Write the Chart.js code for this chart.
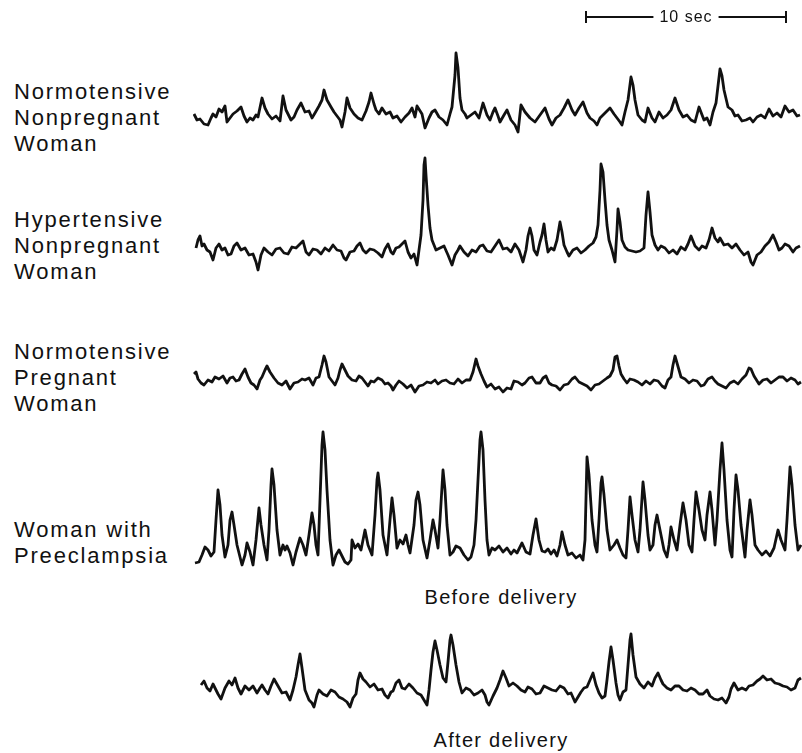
<!DOCTYPE html>
<html>
<head>
<meta charset="utf-8">
<script src="https://cdn.jsdelivr.net/npm/chart.js@4.4.1/dist/chart.umd.min.js"></script>
<style>
  html, body { margin: 0; padding: 0; background: #fff; }
  body { width: 802px; height: 753px; position: relative; overflow: hidden; }
  .trace { position: absolute; left: 193px; width: 609px; }
  .label { position: absolute; left: 14px; font: 22px "Liberation Sans", Arial, sans-serif;
           letter-spacing: 1.8px; line-height: 26px; color: #111; }
  .caption { position: absolute; left: 0; width: 1002px; text-align: center;
             font: 20px "Liberation Sans", Arial, sans-serif; letter-spacing: 1.3px;
             line-height: 20px; color: #111; }
</style>
</head>
<body>

<div class="label" style="top:79px">Normotensive<br>Nonpregnant<br>Woman</div>
<div class="label" style="top:207px">Hypertensive<br>Nonpregnant<br>Woman</div>
<div class="label" style="top:339px">Normotensive<br>Pregnant<br>Woman</div>
<div class="label" style="top:517px">Woman with<br>Preeclampsia</div>
<div class="caption" style="top:587px">Before delivery</div>
<div class="caption" style="top:730px">After delivery</div>

<div class="trace" style="top:0px"><canvas id="trace1" width="609" height="145"></canvas></div>
<div class="trace" style="top:145px"><canvas id="trace2" width="609" height="140"></canvas></div>
<div class="trace" style="top:335px"><canvas id="trace3" width="609" height="70"></canvas></div>
<div class="trace" style="top:420px"><canvas id="trace4" width="609" height="160"></canvas></div>
<div class="trace" style="top:620px"><canvas id="trace5" width="609" height="95"></canvas></div>

<script>
// recording: sample index at 20 samples per second, 609 samples shown
const sampleRate = 20;
const sampleCount = 609;

// scale bar (seconds)
const scaleBarStart = 19.65;
const scaleBarLength = 10;
const scaleBarLevel = 128;
const scaleBarText = '10 sec';

// Normotensive nonpregnant woman
const normNonpregSample = [1,4,7,11,15,18,20,23,26,29,32,34,37,40,44,48,51,54,57,60,63,65,69,72,75,79,83,87,90,93,95,98,101,104,108,112,116,119,122,126,129,131,134,138,141,144,147,149,152,154,157,161,165,169,173,176,178,181,183,186,189,193,197,200,204,208,212,216,219,222,224,229,232,236,239,242,246,250,254,257,259,262,263,265,267,269,272,274,278,282,286,290,294,297,300,302,305,307,311,314,318,322,325,328,332,337,342,347,352,356,359,363,367,371,375,379,382,386,390,394,397,401,404,407,410,414,417,421,424,427,429,432,435,438,440,442,445,449,452,455,459,462,466,470,474,478,482,486,490,494,498,502,506,511,514,517,520,523,525,527,529,531,535,539,542,545,549,553,557,560,564,568,572,576,580,584,588,592,596,600,604,607];
const normNonpregAmp = [31,25,26,21,20,27,31,28,36,33,39,23,27,31,34,38,29,23,27,25,30,28,47,37,31,26,29,24,49,35,31,25,28,35,42,33,34,27,32,39,45,55,45,38,33,29,25,18,33,47,37,31,27,25,34,43,52,41,35,31,37,31,33,27,29,23,28,32,37,28,39,31,17,27,33,35,28,25,20,31,38,70,92,77,47,35,31,27,30,33,27,42,30,25,33,37,29,23,30,35,25,20,13,40,33,27,23,30,37,26,20,27,30,37,45,35,30,37,43,32,27,24,20,27,30,34,37,31,27,23,20,33,45,68,60,45,30,25,23,37,27,23,33,27,30,35,47,35,28,30,25,23,38,25,27,20,33,42,59,76,69,55,38,35,29,30,24,25,27,23,28,30,27,36,29,32,28,39,33,35,29,30];

// Hypertensive nonpregnant woman
const hyperNonpregSample = [3,5,7,9,11,14,17,20,23,26,29,32,35,38,41,44,48,52,56,60,63,65,68,71,75,79,83,87,91,95,99,103,107,110,113,116,120,124,128,132,136,140,144,148,151,153,157,161,164,167,170,173,177,181,185,189,192,195,198,200,203,206,209,212,215,218,221,224,226,228,230,231,232,233,235,237,239,241,243,247,251,255,259,262,265,267,271,275,279,283,287,290,294,298,302,306,310,314,318,322,326,330,333,335,337,339,341,344,347,349,351,353,355,358,361,364,367,369,371,374,376,380,384,388,392,396,400,403,405,407,408,410,412,414,416,419,422,424,425,427,429,432,435,439,443,447,451,453,455,457,459,462,465,468,472,476,480,484,488,492,495,498,502,506,509,513,516,519,522,525,527,531,535,539,543,547,551,555,558,560,564,568,572,576,580,583,586,589,592,596,600,603,607];
const hyperNonpregAmp = [37,45,49,39,41,35,33,25,37,41,35,37,30,31,39,42,35,37,30,31,23,15,30,37,33,30,36,37,32,31,38,37,41,44,33,30,36,35,31,37,34,40,35,34,27,25,33,34,39,42,35,32,36,35,32,28,36,41,33,31,37,38,41,44,33,27,31,20,35,50,85,120,127,110,80,57,45,40,35,37,39,30,20,30,35,39,33,29,35,33,39,40,34,33,39,45,36,37,33,41,35,23,35,49,57,49,35,30,43,50,61,45,33,37,35,45,63,53,40,33,29,35,37,32,35,39,42,48,60,95,121,113,85,60,45,35,23,55,76,63,45,38,35,34,33,34,37,70,93,73,50,40,35,39,37,32,35,31,38,35,41,49,39,35,39,37,45,57,47,43,47,40,41,37,41,35,30,33,23,20,30,33,39,43,50,43,35,37,41,39,33,37,39];

// Normotensive pregnant woman
const normPregSample = [1,3,5,8,11,15,19,22,26,30,34,37,40,43,46,49,52,55,58,61,64,67,69,72,74,77,81,85,89,93,97,101,105,109,112,116,120,123,126,129,131,133,136,139,142,145,147,149,152,155,159,163,166,169,172,175,178,181,185,189,192,195,198,200,203,206,210,214,218,222,226,230,234,238,242,245,249,253,257,261,265,269,273,277,280,283,285,288,291,294,298,302,306,310,314,318,321,325,329,332,336,339,343,347,350,353,356,359,363,367,371,375,379,382,386,390,394,398,402,406,410,414,417,420,422,424,426,428,431,434,437,441,445,449,453,457,461,465,469,472,475,478,480,482,484,488,492,496,500,504,508,511,515,519,522,525,529,533,537,541,545,549,553,556,558,561,566,570,574,578,582,586,590,594,598,602,605,608];
const normPregAmp = [31,33,26,22,20,25,23,28,26,29,22,27,28,24,25,31,36,28,22,20,16,25,28,35,39,33,27,22,20,24,16,22,23,26,25,27,20,27,28,40,49,43,28,24,20,27,35,41,35,29,25,24,29,27,23,19,24,23,27,25,21,22,19,15,20,24,21,17,20,13,19,20,23,22,25,21,24,25,22,21,26,22,25,25,33,46,39,31,24,18,21,16,18,13,17,16,24,23,20,22,27,28,22,22,27,29,22,20,19,15,20,21,26,28,23,21,19,15,20,21,24,27,29,35,48,49,39,31,26,22,26,25,23,20,24,21,25,24,19,17,25,28,40,49,42,28,26,22,25,24,19,20,26,28,24,21,19,17,22,24,21,26,30,37,36,29,21,25,26,22,25,28,28,24,27,25,21,23];

// Woman with preeclampsia, before delivery
const preBeforeSample = [2,6,9,12,15,18,21,23,25,27,29,32,35,37,39,41,44,49,52,54,57,60,63,66,68,71,74,76,78,79,81,84,87,90,92,94,97,100,103,107,110,113,116,119,121,123,125,127,129,130,132,134,137,140,143,146,149,152,155,158,159,162,165,168,170,172,175,179,182,184,185,187,190,194,197,199,201,204,207,210,213,215,217,221,223,225,227,230,234,237,240,242,245,247,250,252,254,257,260,263,267,271,275,278,281,283,285,287,288,290,292,294,296,299,302,306,310,314,318,321,324,327,329,333,337,340,343,346,349,352,355,358,361,364,367,369,372,375,379,383,387,390,392,394,396,399,402,404,406,408,409,411,414,417,421,424,427,430,433,435,437,439,442,445,447,450,452,455,457,460,462,464,467,471,474,476,478,481,484,487,490,493,496,499,501,503,506,509,512,514,517,519,522,524,527,529,531,534,537,539,541,543,545,548,552,554,557,559,562,565,569,573,577,581,585,588,592,594,597,599,602,605,608];
const preBeforeAmp = [17,18,25,33,30,24,28,60,90,75,45,23,35,60,68,55,35,15,25,37,28,15,40,72,55,35,20,50,95,111,95,50,25,35,30,34,27,15,28,42,35,25,45,67,55,35,25,80,135,148,130,90,40,15,25,30,24,18,16,20,40,32,36,30,40,50,35,25,65,100,107,90,45,25,60,82,65,32,40,36,45,35,27,55,80,88,75,40,22,40,60,50,32,60,110,90,55,25,28,34,32,25,20,23,35,60,100,140,148,130,80,40,25,32,30,34,28,32,26,30,27,33,37,28,26,45,61,40,29,28,31,26,30,24,35,48,35,25,27,22,25,20,40,123,105,60,35,28,60,97,103,85,50,30,35,40,32,25,22,50,83,65,40,28,50,98,80,45,30,35,55,65,50,30,23,35,53,40,30,55,77,60,35,28,60,88,70,50,40,65,88,70,35,60,110,137,110,60,30,23,70,105,90,55,23,50,80,65,35,30,25,29,24,32,50,40,30,60,113,95,55,30,35];

// Woman with preeclampsia, after delivery
const preAfterSample = [8,11,14,17,20,22,25,28,32,36,39,42,45,48,52,56,60,64,67,69,72,75,78,81,85,89,93,97,100,103,105,107,109,112,116,119,121,124,126,130,134,138,142,146,150,154,157,160,163,165,167,170,173,177,181,185,189,192,195,198,200,203,206,209,212,216,220,224,228,231,234,236,238,240,242,244,247,250,253,255,257,258,260,263,266,269,273,277,281,285,289,292,294,296,300,304,307,310,313,316,320,324,328,332,335,339,343,347,351,355,359,363,367,371,375,378,382,385,388,391,394,397,400,403,406,409,412,414,416,418,420,423,425,427,430,433,435,437,438,440,443,447,451,455,459,462,465,468,470,474,478,482,486,490,494,498,502,506,510,514,517,521,525,529,533,536,538,541,545,549,553,556,560,564,567,570,574,578,582,586,590,594,598,602,605,608];
const preAfterAmp = [30,34,27,24,31,27,21,16,27,34,30,37,27,21,29,25,29,22,27,30,25,21,29,36,29,22,23,15,25,38,50,61,47,25,15,12,8,20,25,21,19,25,23,18,16,13,8,17,21,35,42,36,33,28,31,25,26,20,17,23,24,32,35,27,26,31,27,22,20,15,10,25,45,63,74,65,50,37,33,53,75,80,70,50,33,22,27,25,20,22,25,20,13,10,19,27,35,44,37,29,32,29,25,23,28,26,21,22,29,27,25,24,29,27,21,22,13,18,23,27,28,35,42,30,22,17,19,35,53,68,55,32,20,15,23,25,50,75,81,60,38,31,27,33,29,37,42,35,31,27,25,29,29,25,24,27,25,21,21,25,19,16,15,17,12,18,26,32,25,27,25,29,30,34,36,39,35,36,32,31,29,28,25,27,35,37];

// draws the "10 sec" text centred on the scale bar, with a white gap behind it
const scaleBarLabel = {
    id: 'scaleBarLabel',
    afterDatasetsDraw(chart) {
        const xs = chart.scales.x;
        const ys = chart.scales.y;
        const mid = xs.getPixelForValue((scaleBarStart + scaleBarLength / 2) * sampleRate);
        const y = ys.getPixelForValue(scaleBarLevel);
        const ctx = chart.ctx;
        ctx.save();
        ctx.font = '16px "Liberation Sans", Arial, sans-serif';
        ctx.letterSpacing = '1px';
        const w = ctx.measureText(scaleBarText).width;
        ctx.fillStyle = '#fff';
        ctx.fillRect(mid - w / 2 - 6, y - 10, w + 12, 20);
        ctx.fillStyle = '#111';
        ctx.textAlign = 'center';
        ctx.textBaseline = 'middle';
        ctx.fillText(scaleBarText, mid, y + 1);
        ctx.restore();
    }
};

function toPoints(samples, amps) {
    return samples.map((s, i) => ({ x: s, y: amps[i] }));
}

function drawTrace(id, samples, amps, height, extraDatasets, plugins) {
    const ctx = document.getElementById(id).getContext('2d');
    const datasets = [{
        data: toPoints(samples, amps),
        borderColor: '#111',
        borderWidth: 2.8,
        borderJoinStyle: 'round',
        pointRadius: 0,
        tension: 0
    }].concat(extraDatasets || []);
    new Chart(ctx, {
        type: 'line',
        data: { datasets: datasets },
        options: {
            responsive: false,
            animation: false,
            layout: { padding: 0, autoPadding: false },
            scales: {
                x: { type: 'linear', min: 0, max: sampleCount, display: false },
                y: { min: 0, max: height, display: false }
            },
            plugins: {
                legend: { display: false },
                tooltip: { enabled: false }
            }
        },
        plugins: plugins || []
    });
}

// scale bar as a dataset on the first trace's axes
const scaleBarDataset = {
    data: [
        { x: scaleBarStart * sampleRate, y: scaleBarLevel },
        { x: (scaleBarStart + scaleBarLength) * sampleRate, y: scaleBarLevel }
    ],
    borderColor: '#111',
    borderWidth: 2,
    pointStyle: 'line',
    pointRotation: 90,
    pointRadius: 6,
    pointBorderWidth: 2,
    pointBorderColor: '#111',
    tension: 0
};

drawTrace('trace1', normNonpregSample, normNonpregAmp, 145, [scaleBarDataset], [scaleBarLabel]);
drawTrace('trace2', hyperNonpregSample, hyperNonpregAmp, 140);
drawTrace('trace3', normPregSample, normPregAmp, 70);
drawTrace('trace4', preBeforeSample, preBeforeAmp, 160);
drawTrace('trace5', preAfterSample, preAfterAmp, 95);
</script>
</body>
</html>
